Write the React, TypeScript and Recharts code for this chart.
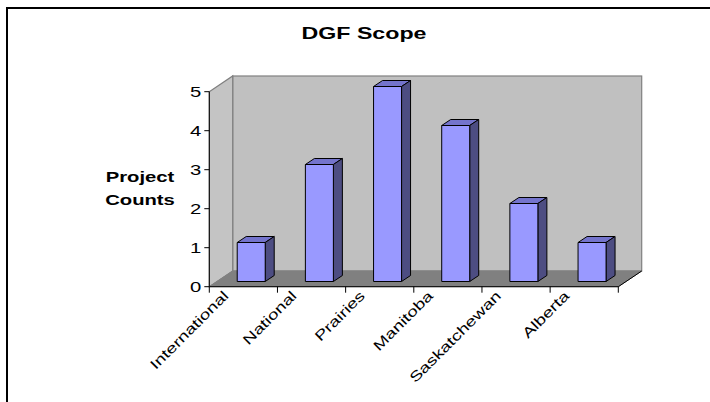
import React from 'react'
import { BarChart, Bar, XAxis, YAxis } from 'recharts'

const categories = ['International', 'National', 'Prairies', 'Manitoba', 'Saskatchewan', 'Alberta']
const projectCounts = [1, 3, 5, 4, 2, 1]
const yTicks = [0, 1, 2, 3, 4, 5]

const data = categories.map((name, i) => ({ name, count: projectCounts[i] }))

const W = 710
const H = 402
const Y_AXIS_W = 60
const X_AXIS_H = 40
const margin = { top: 91.7, right: 91.7, left: 149.3, bottom: 75.3 }

// plot box (front plane)
const plotLeft = margin.left + Y_AXIS_W
const plotRight = W - margin.right
const plotTop = margin.top
const plotBottom = H - margin.bottom - X_AXIS_H

// wall depth, bar offset and bar depth
const DX = 23.4
const DY = -15.7
const SX = 7.6
const SY = -5.2
const BDX = 9
const BDY = -6

const FONT = '"Liberation Sans", Arial, sans-serif'
const STRETCH = 1.45

const Walls = () => {
  const bl = plotLeft + DX
  const br = plotRight + DX
  const bt = plotTop + DY
  const bb = plotBottom + DY
  return (
    <g>
      <rect x={bl} y={bt} width={br - bl} height={bb - bt} fill="#c0c0c0" stroke="#808080" strokeWidth={1.2} />
      <polygon
        points={`${plotLeft},${plotTop} ${bl},${bt} ${bl},${bb} ${plotLeft},${plotBottom}`}
        fill="#c4c4c4"
        stroke="#808080"
        strokeWidth={1.2}
      />
      <polygon
        points={`${plotLeft},${plotBottom} ${bl},${bb} ${br},${bb} ${plotRight},${plotBottom}`}
        fill="#808080"
        stroke="#808080"
      />
      <line x1={plotRight} y1={plotBottom} x2={br} y2={bb} stroke="#000" strokeWidth={1} />
    </g>
  )
}

const Titles = () => (
  <g fontFamily={FONT} fontWeight="bold" fill="#000">
    <text transform={`translate(364,38.5) scale(${STRETCH},1)`} textAnchor="middle" fontSize={16}>
      DGF Scope
    </text>
    <text transform="translate(140,182) scale(1.35,1)" textAnchor="middle" fontSize={15}>
      Project
    </text>
    <text transform="translate(140,205) scale(1.35,1)" textAnchor="middle" fontSize={15}>
      Counts
    </text>
  </g>
)

const Bar3D = (props: any) => {
  const { x, y, width, height } = props
  if (width == null || height == null) return null
  const fx = x + SX
  const fy = y + SY
  return (
    <g stroke="#000" strokeWidth={1} strokeLinejoin="round">
      <polygon
        points={`${fx},${fy} ${fx + BDX},${fy + BDY} ${fx + width + BDX},${fy + BDY} ${fx + width},${fy}`}
        fill="#7474cc"
      />
      <polygon
        points={`${fx + width},${fy} ${fx + width + BDX},${fy + BDY} ${fx + width + BDX},${fy + height + BDY} ${fx + width},${fy + height}`}
        fill="#4d4d82"
      />
      <rect x={fx} y={fy} width={width} height={height} fill="#9999ff" />
    </g>
  )
}

const YTick = (props: any) => {
  const { x, y, payload } = props
  return (
    <text
      transform={`translate(${x - 1},${y}) scale(${STRETCH},1)`}
      textAnchor="end"
      dy="0.36em"
      fontSize={14}
      fontFamily={FONT}
      fill="#000"
    >
      {payload.value}
    </text>
  )
}

const XTick = (props: any) => {
  const { x, y, payload, index } = props
  const half = payload.offset != null ? payload.offset : (plotRight - plotLeft) / categories.length / 2
  const left = x - half
  const right = x + half
  return (
    <g>
      <line x1={left} y1={y} x2={left} y2={y + 6} stroke="#000" />
      {index === categories.length - 1 && <line x1={right} y1={y} x2={right} y2={y + 6} stroke="#000" />}
      <text
        transform={`translate(${x - 14},${y + 10}) rotate(-45) scale(1.35,1)`}
        textAnchor="end"
        fontSize={14}
        fontFamily={FONT}
        fill="#000"
      >
        {payload.value}
      </text>
    </g>
  )
}

export default function App() {
  return (
    <div style={{ position: 'fixed', left: 0, top: 0, width: W, height: H, overflow: 'hidden', background: '#fff' }}>
      <div
        style={{
          position: 'absolute',
          left: 6,
          top: 7,
          width: 760,
          height: 460,
          border: '2px solid #000',
          boxSizing: 'border-box',
        }}
      />
      <div style={{ position: 'absolute', left: 0, top: 0 }}>
        <BarChart width={W} height={H} data={data} margin={margin} barCategoryGap="29.8%">
          <Walls />
          <Titles />
          <XAxis
            dataKey="name"
            height={X_AXIS_H}
            axisLine={{ stroke: '#000' }}
            tickLine={false}
            tickSize={0}
            tickMargin={0}
            interval={0}
            tick={<XTick />}
          />
          <YAxis
            width={Y_AXIS_W}
            domain={[0, 5]}
            ticks={yTicks}
            interval={0}
            axisLine={{ stroke: '#000' }}
            tickLine={{ stroke: '#000' }}
            tickSize={5}
            tickMargin={2}
            tick={<YTick />}
          />
          <Bar dataKey="count" shape={<Bar3D />} isAnimationActive={false} />
        </BarChart>
      </div>
    </div>
  )
}
